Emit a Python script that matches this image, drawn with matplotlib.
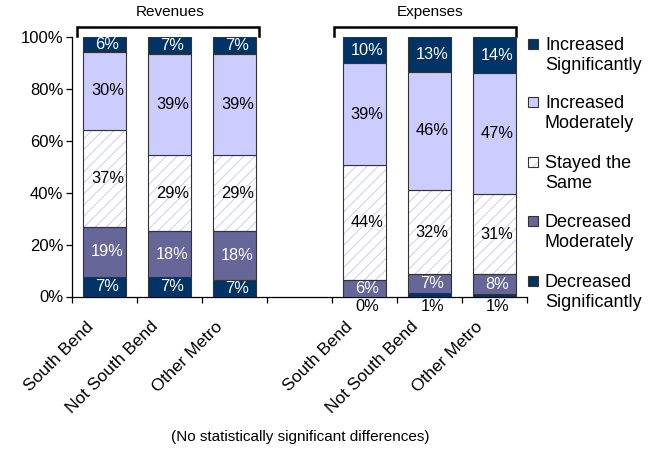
import matplotlib
matplotlib.use('Agg')
import matplotlib.pyplot as plt
from matplotlib.patches import Rectangle
from matplotlib.lines import Line2D
import matplotlib.transforms as mtransforms

plt.rcParams['font.family'] = ['Liberation Sans', 'DejaVu Sans']
plt.rcParams['hatch.linewidth'] = 0.8

groups = ['Revenues', 'Expenses']
categories = ['South Bend', 'Not South Bend', 'Other Metro']
series = ['Decreased Significantly', 'Decreased Moderately', 'Stayed the Same',
          'Increased Moderately', 'Increased Significantly']
legend_labels = ['Increased\nSignificantly', 'Increased\nModerately', 'Stayed the\nSame',
                 'Decreased\nModerately', 'Decreased\nSignificantly']

# segment heights (percent)
rev_dec_sig = [7.6, 7.6, 6.5]
rev_dec_mod = [19.1, 17.5, 18.6]
rev_same = [37.5, 29.5, 29.5]
rev_inc_mod = [30.1, 38.7, 38.7]
rev_inc_sig = [5.7, 6.7, 6.7]

exp_dec_sig = [0.0, 1.4, 1.0]
exp_dec_mod = [6.5, 7.2, 7.6]
exp_same = [44.0, 32.4, 30.9]
exp_inc_mod = [39.4, 45.7, 46.5]
exp_inc_sig = [10.1, 13.3, 14.0]

# printed labels
rev_dec_sig_lbl = [7, 7, 7]
rev_dec_mod_lbl = [19, 18, 18]
rev_same_lbl = [37, 29, 29]
rev_inc_mod_lbl = [30, 39, 39]
rev_inc_sig_lbl = [6, 7, 7]

exp_dec_sig_lbl = [0, 1, 1]
exp_dec_mod_lbl = [6, 7, 8]
exp_same_lbl = [44, 32, 31]
exp_inc_mod_lbl = [39, 46, 47]
exp_inc_sig_lbl = [10, 13, 14]

footnote = '(No statistically significant differences)'

NAVY = '#003366'
LAV = '#CCCCFF'
PURP = '#666699'
HATCH = '#D2D2F2'
EDGE = '#333333'

W, H = 655, 450
fig = plt.figure(figsize=(W / 100, H / 100), dpi=100)

def fx(px):
    return px / W

def fy(py):
    return 1 - py / H

ax_l, ax_r, ax_t, ax_b = 72.3, 527.0, 37.0, 296.5
ax = fig.add_axes([fx(ax_l), fy(ax_b), (ax_r - ax_l) / W, (ax_b - ax_t) / H])
ax.set_xlim(-0.5, 6.5)
ax.set_ylim(0, 100)

seg_styles = [
    dict(color=NAVY, text='white'),
    dict(color=PURP, text='white'),
    dict(color='white', text='black', hatch=True),
    dict(color=LAV, text='black'),
    dict(color=NAVY, text='white'),
]

blocks = [
    ([0, 1, 2], [rev_dec_sig, rev_dec_mod, rev_same, rev_inc_mod, rev_inc_sig],
     [rev_dec_sig_lbl, rev_dec_mod_lbl, rev_same_lbl, rev_inc_mod_lbl, rev_inc_sig_lbl], False),
    ([4, 5, 6], [exp_dec_sig, exp_dec_mod, exp_same, exp_inc_mod, exp_inc_sig],
     [exp_dec_sig_lbl, exp_dec_mod_lbl, exp_same_lbl, exp_inc_mod_lbl, exp_inc_sig_lbl], True),
]

bw = 0.66
lblfs = 11.8
for xs, vals, lbls, below in blocks:
    bottoms = [0.0] * len(xs)
    for si, (v, lb) in enumerate(zip(vals, lbls)):
        st = seg_styles[si]
        if st.get('hatch'):
            ax.bar(xs, v, bottom=bottoms, width=bw, color='white', edgecolor=HATCH,
                   hatch='///', linewidth=0, zorder=2)
            ax.bar(xs, v, bottom=bottoms, width=bw, fill=False, edgecolor=EDGE,
                   linewidth=0.8, zorder=3)
        else:
            ax.bar(xs, v, bottom=bottoms, width=bw, color=st['color'], edgecolor=EDGE,
                   linewidth=0.8, zorder=3)
        for i, x in enumerate(xs):
            if si == 0 and below:
                ax.text(x + 0.04, -3.8, f'{lb[i]}%', ha='center', va='center',
                        fontsize=lblfs, color='black', clip_on=False)
            else:
                ax.text(x + 0.04, bottoms[i] + v[i] / 2, f'{lb[i]}%', ha='center',
                        va='center', fontsize=lblfs, color=st['text'], zorder=5)
        bottoms = [b + h for b, h in zip(bottoms, v)]

# axes styling
for s in ['top', 'right']:
    ax.spines[s].set_visible(False)
ax.spines['left'].set_linewidth(0.9)
ax.spines['bottom'].set_linewidth(0.9)
ax.set_yticks([0, 20, 40, 60, 80, 100])
ax.set_yticklabels([f'{v}%' for v in [0, 20, 40, 60, 80, 100]])
ax.tick_params(axis='y', direction='out', length=4.5, width=0.9, pad=2, labelsize=12)
ax.set_xticks([-0.5 + i for i in range(8)])
ax.set_xticklabels([])
ax.tick_params(axis='x', direction='out', length=4.5, width=0.9)

# category labels
off = mtransforms.ScaledTranslation(-14 / 100, -27.5 / 100, fig.dpi_scale_trans)
trans = ax.get_xaxis_transform() + off
for xs in ([0, 1, 2], [4, 5, 6]):
    for x, c in zip(xs, categories):
        ax.text(x, 0, c, transform=trans, rotation=45, ha='right', va='center',
                rotation_mode='anchor', fontsize=12.5)

# group brackets and titles
for (x0, x1, xc), g in zip([(-0.42, 2.37, 1.0), (3.53, 6.33, 5.0)], groups):
    ax.add_line(Line2D([x0, x0, x1, x1], [100.3, 103.8, 103.8, 100.3], color='black',
                       lw=1.8, clip_on=False, solid_joinstyle='miter'))
    ax.text(xc, 109.6, g, ha='center', va='center', fontsize=11, clip_on=False)

# legend (manual)
leg_colors = [NAVY, LAV, None, PURP, NAVY]
leg_tops = [39, 97, 157, 216, 276]
for lab, col, top in zip(legend_labels, leg_colors, leg_tops):
    if col is None:
        fig.patches.append(Rectangle((fx(528), fy(top + 10)), 10 / W, 10 / H,
                                     transform=fig.transFigure, facecolor='white',
                                     edgecolor=HATCH, hatch='///', linewidth=0))
        fig.patches.append(Rectangle((fx(528), fy(top + 10)), 10 / W, 10 / H,
                                     transform=fig.transFigure, fill=False,
                                     edgecolor=EDGE, linewidth=0.8))
    else:
        fig.patches.append(Rectangle((fx(528), fy(top + 10)), 10 / W, 10 / H,
                                     transform=fig.transFigure, facecolor=col,
                                     edgecolor=EDGE, linewidth=0.8))
    l1, l2 = lab.split('\n')
    fig.text(fx(545), fy(top + 11), l1, ha='left', va='baseline', fontsize=13)
    fig.text(fx(545), fy(top + 31), l2, ha='left', va='baseline', fontsize=13)

fig.text(fx(300), fy(437), footnote, ha='center', va='center', fontsize=11)

fig.savefig('out.png', dpi=100)
